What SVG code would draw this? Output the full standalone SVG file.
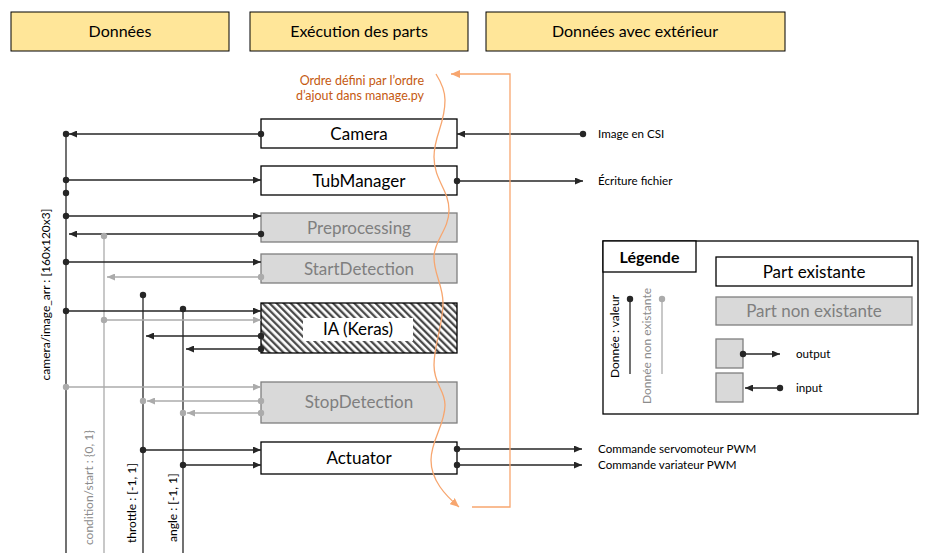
<svg xmlns="http://www.w3.org/2000/svg" width="951" height="553" viewBox="0 0 951 553">
<defs>
<style>
text{font-family:Lato,"Liberation Sans",sans-serif}
.hdr{fill:#FFE699;stroke:#000;stroke-width:1}
.ht{font-size:16px;text-anchor:middle;fill:#000}
.part{fill:#fff;stroke:#000;stroke-width:1.3}
.npart{fill:#D9D9D9;stroke:#7F7F7F;stroke-width:1.3}
.pt{font-size:17px;text-anchor:middle;fill:#000}
.npt{font-size:17px;text-anchor:middle;fill:#7F7F7F}
.k{stroke:#262626;stroke-width:1.3;fill:none}
.g{stroke:#ABABAB;stroke-width:1.3;fill:none}
.ka{marker-end:url(#ak)}
.ga{marker-end:url(#ag)}
.kd{fill:#262626}
.gd{fill:#ABABAB}
.lbl{font-size:11.6px;fill:#000}
.vl{font-size:12px;fill:#000}
.vg{font-size:12px;fill:#8C8C8C}
.or{stroke:#F7A66F;stroke-width:1.3;fill:none;marker-end:url(#ao)}
</style>
<marker id="ak" markerUnits="userSpaceOnUse" markerWidth="8" markerHeight="7" refX="8" refY="3.5" orient="auto"><path d="M0,0 L8,3.5 L0,7 z" fill="#262626"/></marker>
<marker id="ag" markerUnits="userSpaceOnUse" markerWidth="8" markerHeight="7" refX="8" refY="3.5" orient="auto"><path d="M0,0 L8,3.5 L0,7 z" fill="#ABABAB"/></marker>
<marker id="ao" markerUnits="userSpaceOnUse" markerWidth="9" markerHeight="8" refX="9" refY="4" orient="auto"><path d="M0,0 L9,4 L0,8 z" fill="#F7A66F"/></marker>
<pattern id="hatch" patternUnits="userSpaceOnUse" width="5" height="5" patternTransform="rotate(-45)"><rect width="5" height="5" fill="#fff"/><line x1="1.2" y1="0" x2="1.2" y2="5" stroke="#404040" stroke-width="2.2"/></pattern>
</defs>
<rect width="951" height="553" fill="#fff"/>

<g id="headers">
<rect class="hdr" x="11" y="12" width="218" height="39"/>
<text class="ht" x="120" y="37">Données</text>
<rect class="hdr" x="250" y="12" width="218" height="39"/>
<text class="ht" x="359" y="37">Exécution des parts</text>
<rect class="hdr" x="486" y="12" width="299" height="39"/>
<text class="ht" x="635" y="37">Données avec extérieur</text>
</g>

<g id="camera"><rect class="part" x="261" y="119" width="196" height="29"/><text class="pt" x="359" y="140">Camera</text></g>
<g id="tubmanager"><rect class="part" x="261" y="166" width="196" height="29"/><text class="pt" x="359" y="187">TubManager</text></g>
<g id="preprocessing"><rect class="npart" x="261" y="213" width="196" height="29"/><text class="npt" x="359" y="234">Preprocessing</text></g>
<g id="startdetection"><rect class="npart" x="261" y="254" width="196" height="29"/><text class="npt" x="359" y="275">StartDetection</text></g>
<g id="ia"><rect x="261" y="303" width="196" height="50" fill="url(#hatch)" stroke="#000" stroke-width="1.3"/><rect x="303" y="318" width="110" height="23" fill="#fff"/><text class="pt" x="358" y="335">IA (Keras)</text></g>
<g id="stopdetection"><rect class="npart" x="261" y="382" width="196" height="41"/><text class="npt" x="359" y="408">StopDetection</text></g>
<g id="actuator"><rect class="part" x="261" y="442" width="196" height="32"/><text class="pt" x="359" y="464">Actuator</text></g>

<g id="connectors">
<line class="k" x1="66" y1="134" x2="66" y2="553"/>
<line class="g" x1="104" y1="236" x2="104" y2="553"/>
<line class="k" x1="143" y1="295" x2="143" y2="553"/>
<line class="k" x1="183" y1="309" x2="183" y2="553"/>

<line class="k ka" x1="261" y1="134" x2="69" y2="134"/>
<line class="k ka" x1="66" y1="180" x2="261" y2="180"/>
<line class="k ka" x1="66" y1="216" x2="261" y2="216"/>
<line class="k ka" x1="261" y1="234" x2="69" y2="234"/>
<line class="k ka" x1="66" y1="262" x2="261" y2="262"/>
<line class="g ga" x1="261" y1="277" x2="107" y2="277"/>
<line class="k ka" x1="66" y1="311" x2="261" y2="311"/>
<line class="g ga" x1="104" y1="320" x2="261" y2="320"/>
<line class="k ka" x1="261" y1="336" x2="146" y2="336"/>
<line class="k ka" x1="261" y1="349" x2="186" y2="349"/>
<line class="g ga" x1="66" y1="387" x2="261" y2="387"/>
<line class="g ga" x1="261" y1="401" x2="147" y2="401"/>
<line class="g ga" x1="261" y1="413" x2="187" y2="413"/>
<line class="k ka" x1="143" y1="450" x2="261" y2="450"/>
<line class="k ka" x1="183" y1="465" x2="261" y2="465"/>

<line class="k ka" x1="583" y1="134" x2="457" y2="134"/>
<line class="k ka" x1="457" y1="181" x2="583" y2="181"/>
<line class="k ka" x1="457" y1="449" x2="582" y2="449"/>
<line class="k ka" x1="457" y1="465" x2="582" y2="465"/>

<g class="kd">
<circle cx="66" cy="134" r="3.2"/><circle cx="261" cy="134" r="3.2"/>
<circle cx="66" cy="180" r="3.2"/><circle cx="66" cy="193" r="3.2"/>
<circle cx="66" cy="216" r="3.2"/><circle cx="261" cy="234" r="3.2"/>
<circle cx="66" cy="262" r="3.2"/>
<circle cx="143" cy="295" r="3.2"/><circle cx="183" cy="309" r="3.2"/>
<circle cx="66" cy="311" r="3.2"/>
<circle cx="261" cy="336" r="3.2"/><circle cx="261" cy="349" r="3.2"/>
<circle cx="143" cy="450" r="3.2"/><circle cx="183" cy="465" r="3.2"/>
<circle cx="583" cy="134" r="3.2"/><circle cx="457" cy="181" r="3.2"/>
<circle cx="457" cy="449" r="3.2"/><circle cx="457" cy="465" r="3.2"/>
</g>
<g class="gd">
<circle cx="104" cy="236" r="3.2"/><circle cx="261" cy="277" r="3.2"/>
<circle cx="104" cy="320" r="3.2"/><circle cx="66" cy="387" r="3.2"/>
<circle cx="261" cy="401" r="3.2"/><circle cx="143" cy="401" r="3.2"/>
<circle cx="261" cy="413" r="3.2"/><circle cx="183" cy="413" r="3.2"/>
</g>

<path class="or" d="M436,74 C441,82 445,90 445,100 C445,125 434,135 434,157 C434,180 449,190 449,210 C449,230 434,240 434,257 C434,275 443,285 443,303 C443,325 434,345 434,365 C434,385 445,390 445,405 C445,425 431,440 431,460 C431,480 445,495 459,507"/>
<polyline class="or" points="472,507 510,507 510,74 451,74"/>
</g>

<g id="labels">
<text x="424" y="85" font-size="12.5" fill="#C55A11" text-anchor="end">Ordre défini par l’ordre</text>
<text x="424" y="100" font-size="12.5" fill="#C55A11" text-anchor="end">d’ajout dans manage.py</text>
<text class="lbl" x="598" y="138">Image en CSI</text>
<text class="lbl" x="598" y="185">Écriture fichier</text>
<text class="lbl" x="598" y="453">Commande servomoteur PWM</text>
<text class="lbl" x="598" y="469">Commande variateur PWM</text>
<text class="vl" transform="translate(49.5,294.5) rotate(-90)" text-anchor="middle">camera/image_arr : [160x120x3]</text>
<text class="vg" transform="translate(92.5,545) rotate(-90)">condition/start : {0, 1}</text>
<text class="vl" transform="translate(136,543) rotate(-90)">throttle : [-1, 1]</text>
<text class="vl" transform="translate(177,542) rotate(-90)">angle : [-1, 1]</text>
</g>

<g id="legend">
<rect x="603" y="241" width="315" height="173" fill="#fff" stroke="#000" stroke-width="1.3"/>
<rect x="603" y="241" width="93" height="31" fill="#fff" stroke="#000" stroke-width="1.3"/>
<text x="649.5" y="263" font-size="16" font-weight="bold" text-anchor="middle">Légende</text>
<rect class="part" x="716" y="257" width="196" height="29"/>
<text class="pt" x="814" y="278" font-size="16">Part existante</text>
<rect class="npart" x="716" y="297" width="196" height="28"/>
<text class="npt" x="814" y="317">Part non existante</text>
<rect class="npart" x="716" y="339" width="27" height="29"/>
<rect class="npart" x="716" y="373" width="27" height="29"/>
<line class="k ka" x1="743" y1="354" x2="780" y2="354"/>
<circle class="kd" cx="743" cy="354" r="3.2"/>
<line class="k ka" x1="780" y1="388" x2="745" y2="388"/>
<circle class="kd" cx="780" cy="388" r="3.2"/>
<text class="lbl" x="796" y="358">output</text>
<text class="lbl" x="796" y="392">input</text>
<line class="k" x1="630" y1="299" x2="630" y2="374"/>
<circle class="kd" cx="630" cy="299" r="3.2"/>
<line class="g" x1="662" y1="299" x2="662" y2="374"/>
<circle class="gd" cx="662" cy="299" r="3.2"/>
<text class="vl" transform="translate(619,336.5) rotate(-90)" text-anchor="middle">Donnée : valeur</text>
<text class="vg" transform="translate(651,346) rotate(-90)" text-anchor="middle">Donnée non existante</text>
</g>
</svg>
